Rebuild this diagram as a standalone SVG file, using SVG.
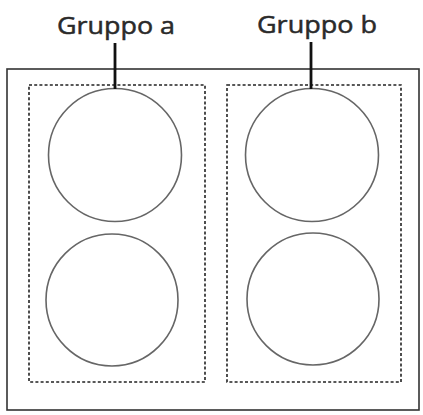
<svg xmlns="http://www.w3.org/2000/svg" width="423" height="415" viewBox="0 0 423 415">
<style>
.frame{fill:none;stroke:#333;stroke-width:1.6}
.grp{fill:none;stroke:#222;stroke-width:1.6;stroke-dasharray:3 2.2}
.c{fill:#fff;stroke:#666;stroke-width:1.6}
.lbl{font-family:"Open Sans","DejaVu Sans",sans-serif;font-size:24px;fill:#2a2a2a;stroke:#2a2a2a;stroke-width:0.5}
.lead{stroke:#111;stroke-width:2.8}
</style>
<rect width="423" height="415" fill="#fff"/>
<rect class="frame" x="7" y="69" width="412" height="341"/>
<g id="gruppo-a">
<rect class="grp" x="29" y="85" width="176" height="297"/>
<circle id="a1" class="c" cx="115" cy="155" r="66.5"/>
<circle id="a2" class="c" cx="112" cy="300" r="66"/>
<text class="lbl" x="57" y="34" textLength="118" lengthAdjust="spacingAndGlyphs">Gruppo a</text>
</g>
<g id="gruppo-b">
<rect class="grp" x="227" y="85" width="174" height="297"/>
<circle id="b1" class="c" cx="312" cy="155" r="66.5"/>
<circle id="b2" class="c" cx="313" cy="299" r="66"/>
<text class="lbl" x="257" y="33" textLength="120" lengthAdjust="spacingAndGlyphs">Gruppo b</text>
</g>
<g id="connectors">
<line class="lead" x1="115" y1="43" x2="115" y2="89"/>
<line class="lead" x1="311" y1="42" x2="311" y2="89"/>
</g>
</svg>
